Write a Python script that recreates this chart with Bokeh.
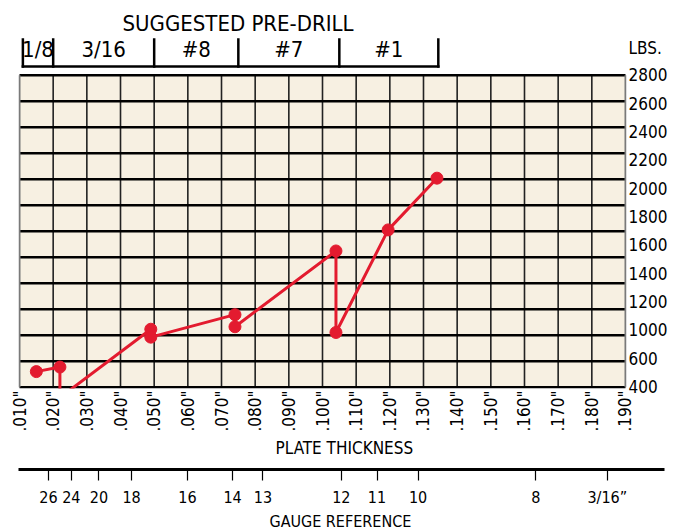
import math
from bokeh.plotting import figure
from bokeh.models import (FixedTicker, LinearAxis, Range1d, BoxAnnotation, Title)
from bokeh.core.properties import value
from bokeh.layouts import column
from bokeh.embed import file_html
from bokeh.resources import INLINE

# ---------------- data ----------------
# plate thickness in thousandths of an inch, pull-out load in lbs
thickness = [15, 22, 22, 49, 49, 74, 74, 104, 104, 119.5, 134]
load_lbs = [520, 555, 320, 846, 785, 958, 865, 1448, 821, 1610, 2008]

x_ticks = [10, 20, 30, 40, 50, 60, 70, 80, 90, 100, 110, 120, 130, 140, 150, 160, 170, 180, 190]
x_tick_labels = ['.010"', '.020"', '.030"', '.040"', '.050"', '.060"', '.070"', '.080"', '.090"',
                 '.100"', '.110"', '.120"', '.130"', '.140"', '.150"', '.160"', '.170"', '.180"', '.190"']

y_grid_values = [400, 600, 800, 1000, 1200, 1400, 1600, 1800, 2000, 2200, 2400, 2600, 2800]
y_tick_labels = ["2800", "2600", "2400", "2200", "2000", "1800", "1600", "1400", "1200", "1000", "600", "400"]

drill_bounds = [11, 20, 50, 75, 105, 134.4]
drill_labels = ["1/8", "3/16", "#8", "#7", "#1"]

gauge_pos = [18.9, 25.7, 33.9, 43.6, 60.2, 73.6, 82.6, 105.9, 116.5, 128.7, 163.7, 184.9]
gauge_labels = ["26", "24", "20", "18", "16", "14", "13", "12", "11", "10", "8", "3/16\u201d"]

# ---------------- style / geometry ----------------
FONT = "'DejaVu Sans Condensed', Roboto, sans-serif"
RED = "#E31B2F"
BEIGE = "#F7F0E2"

FRAME_H = 351
Y0, Y1 = 390, 3090              # y range (lbs) of the plotting frame
PX = (Y1 - Y0) / FRAME_H        # lbs per pixel


def y_above_bottom(px):
    """data y that lies px pixels above the frame bottom (for decorations)."""
    return Y0 + px * PX


x_lo, x_hi = x_ticks[0], x_ticks[-1]
y_lo, y_hi = y_grid_values[0], y_grid_values[-1]

p = figure(frame_width=608, frame_height=FRAME_H,
           x_range=Range1d(9.7, 190.3), y_range=Range1d(Y0, Y1),
           x_axis_location=None, y_axis_location=None,
           toolbar_location=None, output_backend="svg", title=None,
           min_border_left=17, min_border_right=43, min_border_top=37, min_border_bottom=77)
p.center = []
p.outline_line_color = None
p.background_fill_color = "white"
p.border_fill_color = "white"

# beige chart area
p.add_layout(BoxAnnotation(left=x_lo, right=x_hi, bottom=y_lo, top=y_hi,
                           fill_color=BEIGE, fill_alpha=1, line_color=None, level="underlay"))

# vertical grid lines
inner_x = x_ticks[1:-1]
p.segment(x0=inner_x, y0=[y_lo] * len(inner_x), x1=inner_x, y1=[y_hi] * len(inner_x),
          line_color="#222222", line_width=1.6)
# horizontal grid lines
p.segment(x0=[x_lo] * len(y_grid_values), y0=y_grid_values, x1=[x_hi] * len(y_grid_values),
          y1=y_grid_values, line_color="black", line_width=2.6)
# left/right borders
p.segment(x0=[x_lo, x_hi], y0=[y_lo, y_lo], x1=[x_lo, x_hi], y1=[y_hi, y_hi],
          line_color="#7a7a7a", line_width=2)

# data
p.line(thickness, load_lbs, line_color=RED, line_width=3)
p.scatter(thickness, load_lbs, size=12, fill_color=RED, line_color=RED)

# ---- suggested pre-drill bracket ----
yb = y_above_bottom(322)   # bracket base line
yt = y_above_bottom(349)   # top of bracket ticks
yl = y_above_bottom(339)   # label centre
p.segment(x0=[drill_bounds[0]], y0=[yb], x1=[drill_bounds[-1]], y1=[yb],
          line_color="black", line_width=2.5, line_cap="square")
p.segment(x0=drill_bounds, y0=[yb] * len(drill_bounds), x1=drill_bounds, y1=[yt] * len(drill_bounds),
          line_color="black", line_width=2.5, line_cap="square")
mids = [(a + b) / 2 for a, b in zip(drill_bounds[:-1], drill_bounds[1:])]
p.text(x=mids, y=[yl] * len(mids), text=drill_labels, text_align="center", text_baseline="middle",
       text_font=value(FONT), text_font_size="22px", text_color="black")

p.add_layout(Title(text="SUGGESTED PRE-DRILL", align="left", offset=104, standoff=3,
                   text_font=FONT, text_font_size="22px", text_font_style="normal",
                   text_color="black"), "above")

# ---- right axis (lbs) ----
n = len(y_tick_labels)
y_tick_pos = [round(y_hi - i * (y_hi - y_lo) / (n - 1), 3) for i in range(n)]
y_unit_pos = round(y_above_bottom(340), 3)
right_axis = LinearAxis(ticker=FixedTicker(ticks=y_tick_pos + [y_unit_pos]), bounds=(y_lo, y_unit_pos + 1))
overrides = {v: lab for v, lab in zip(y_tick_pos, y_tick_labels)}
overrides[y_unit_pos] = "LBS."
right_axis.major_label_overrides = overrides
right_axis.axis_line_color = None
right_axis.major_tick_out = 0
right_axis.major_tick_in = 0
right_axis.major_label_standoff = 2
right_axis.major_label_text_font = FONT
right_axis.major_label_text_font_size = "17px"
right_axis.major_label_text_color = "black"
p.add_layout(right_axis, "right")

# ---- bottom axis (plate thickness) ----
bottom_axis = LinearAxis(ticker=FixedTicker(ticks=x_ticks))
bottom_axis.major_label_overrides = {v: lab for v, lab in zip(x_ticks, x_tick_labels)}
bottom_axis.major_label_orientation = math.pi / 2
bottom_axis.axis_line_color = None
bottom_axis.major_tick_out = 0
bottom_axis.major_tick_in = 0
bottom_axis.major_label_standoff = 2
bottom_axis.major_label_text_font = FONT
bottom_axis.major_label_text_font_size = "17px"
bottom_axis.major_label_text_color = "black"
p.add_layout(bottom_axis, "below")
p.add_layout(Title(text="PLATE THICKNESS", align="left", offset=257, standoff=2,
                   text_font=FONT, text_font_size="17px", text_font_style="normal",
                   text_color="black"), "below")

# ---------------- gauge reference strip ----------------
g = figure(frame_width=646, frame_height=2,
           x_range=Range1d(10, 201.9), y_range=Range1d(0, 1),
           x_axis_location=None, y_axis_location=None,
           toolbar_location=None, output_backend="svg", title=None,
           min_border_left=18, min_border_right=4, min_border_top=2, min_border_bottom=0)
g.center = []
g.outline_line_color = None
g.background_fill_color = "white"
g.border_fill_color = "white"

gauge_axis = LinearAxis(ticker=FixedTicker(ticks=gauge_pos))
gauge_axis.major_label_overrides = {v: lab for v, lab in zip(gauge_pos, gauge_labels)}
gauge_axis.axis_line_width = 3
gauge_axis.axis_line_color = "black"
gauge_axis.major_tick_out = 11
gauge_axis.major_tick_in = 0
gauge_axis.major_tick_line_width = 1.2
gauge_axis.major_tick_line_color = "black"
gauge_axis.major_label_standoff = 7
gauge_axis.major_label_text_font = FONT
gauge_axis.major_label_text_font_size = "16px"
gauge_axis.major_label_text_color = "black"
g.add_layout(gauge_axis, "below")
g.add_layout(Title(text="GAUGE REFERENCE", align="left", offset=251, standoff=0,
                   text_font=FONT, text_font_size="16px", text_font_style="normal",
                   text_color="black"), "below")

layout = column(p, g, spacing=0)
open("out.html", "w").write(file_html(layout, INLINE))
